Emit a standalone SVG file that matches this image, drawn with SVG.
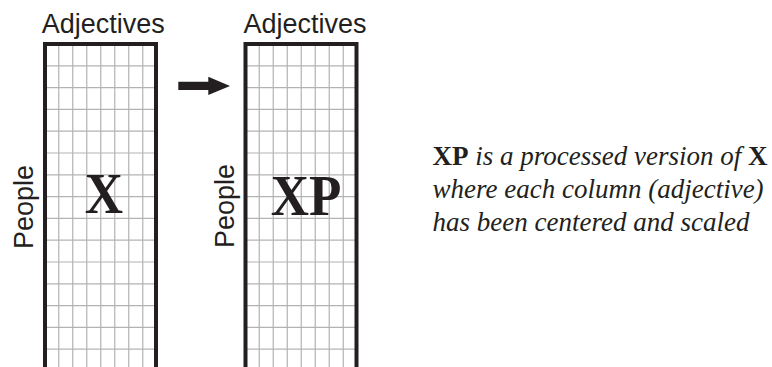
<svg xmlns="http://www.w3.org/2000/svg" width="772" height="367" viewBox="0 0 772 367">
<defs>
<style>
.bg{fill:#ffffff}
.grid line{stroke:#b3b3b3;stroke-width:1.2}
.border{fill:none;stroke:#231f20;stroke-width:4;stroke-linecap:butt}
.lbl{font-family:"Liberation Sans",Arial,sans-serif;font-size:27px;fill:#231f20}
.big{font-family:"Liberation Serif","Times New Roman",serif;font-weight:bold;font-size:53px;fill:#231f20}
.note{font-family:"Liberation Serif","Times New Roman","DejaVu Serif",serif;font-style:italic;font-size:27px;fill:#231f20}
.nb{font-family:"Liberation Serif","Times New Roman",serif;font-style:normal;font-weight:bold}
.arrow{fill:#231f20}
</style>
<g id="gridpat">
<g class="grid">
<line x1="58.75" y1="44" x2="58.75" y2="367"/>
<line x1="72.75" y1="44" x2="72.75" y2="367"/>
<line x1="86.75" y1="44" x2="86.75" y2="367"/>
<line x1="100.75" y1="44" x2="100.75" y2="367"/>
<line x1="114.75" y1="44" x2="114.75" y2="367"/>
<line x1="128.75" y1="44" x2="128.75" y2="367"/>
<line x1="142.75" y1="44" x2="142.75" y2="367"/>
<line x1="45" y1="65.8" x2="156" y2="65.8"/>
<line x1="45" y1="87.6" x2="156" y2="87.6"/>
<line x1="45" y1="109.4" x2="156" y2="109.4"/>
<line x1="45" y1="131.2" x2="156" y2="131.2"/>
<line x1="45" y1="153" x2="156" y2="153"/>
<line x1="45" y1="174.8" x2="156" y2="174.8"/>
<line x1="45" y1="196.6" x2="156" y2="196.6"/>
<line x1="45" y1="218.4" x2="156" y2="218.4"/>
<line x1="45" y1="240.2" x2="156" y2="240.2"/>
<line x1="45" y1="262" x2="156" y2="262"/>
<line x1="45" y1="283.8" x2="156" y2="283.8"/>
<line x1="45" y1="305.6" x2="156" y2="305.6"/>
<line x1="45" y1="327.4" x2="156" y2="327.4"/>
<line x1="45" y1="349.2" x2="156" y2="349.2"/>
</g>
<path class="border" d="M45,367 V44 H156 V367"/>
</g>
</defs>
<rect class="bg" x="0" y="0" width="772" height="367"/>

<g id="matrix-X">
<use href="#gridpat"/>
<text class="lbl" x="103.3" y="33.3" text-anchor="middle">Adjectives</text>
<text class="lbl" transform="translate(33,207) rotate(-90)" text-anchor="middle">People</text>
<text class="big" transform="translate(104,213) scale(1,1.07)" text-anchor="middle">X</text>
</g>

<g id="matrix-XP">
<use href="#gridpat" transform="translate(200.5,0)"/>
<text class="lbl" x="305" y="33.3" text-anchor="middle">Adjectives</text>
<text class="lbl" transform="translate(234,206) rotate(-90)" text-anchor="middle">People</text>
<text class="big" transform="translate(306,215) scale(1,1.07)" text-anchor="middle">XP</text>
</g>

<g id="connectors">
<polygon class="arrow" points="178.3,81.7 208.3,81.7 208.3,76.7 230,86 208.3,95 208.3,90 178.3,90"/>
</g>

<g id="note">
<text class="note" x="432.5" y="165"><tspan class="nb">XP</tspan> is a processed version of <tspan class="nb">X</tspan></text>
<text class="note" x="432.5" y="197.5">where each column (adjective)</text>
<text class="note" x="432.5" y="230.5">has been centered and scaled</text>
</g>
</svg>
